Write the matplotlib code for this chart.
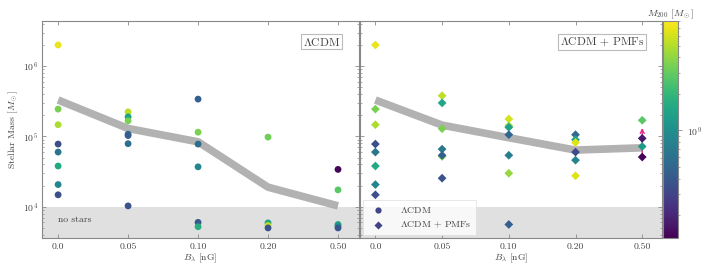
import numpy as np
import matplotlib
matplotlib.use("Agg")
import matplotlib.pyplot as plt
from matplotlib.colors import LogNorm

plt.rcParams.update({
    "font.family": "cmr10",
    "mathtext.fontset": "cm",
    "axes.unicode_minus": False,
    "axes.formatter.use_mathtext": True,
    "font.size": 7,
    "xtick.direction": "in",
    "ytick.direction": "in",
    "xtick.top": True,
    "ytick.right": True,
    "axes.edgecolor": "#888888",
    "xtick.color": "#888888",
    "ytick.color": "#888888",
    "xtick.labelcolor": "#444444",
    "ytick.labelcolor": "#444444",
    "text.color": "#444444",
    "axes.labelcolor": "#444444",
})

# field strengths (categorical x positions)
b_labels = ["0.0", "0.05", "0.10", "0.20", "0.50"]

# LCDM haloes: x index, stellar mass, M200
lcdm_x = [0, 0, 0, 0, 0, 0, 0, 0,
          1, 1, 1, 1, 1, 1, 1,
          2, 2, 2, 2, 2, 2,
          3, 3, 3, 3,
          4, 4, 4, 4, 4]
lcdm_ms = [2.0e6, 2.45e5, 1.47e5, 7.8e4, 6.0e4, 3.8e4, 2.07e4, 1.48e4,
           2.24e5, 1.9e5, 1.67e5, 1.08e5, 1.03e5, 7.9e4, 1.03e4,
           3.4e5, 1.15e5, 7.8e4, 3.7e4, 6.0e3, 5.2e3,
           9.8e4, 5.9e3, 5.4e3, 5.0e3,
           3.4e4, 1.74e4, 5.6e3, 5.3e3, 5.0e3]
lcdm_m200 = [7.0e9, 3.5e9, 4.8e9, 3.5e8, 6.5e8, 1.6e9, 8.5e8, 3.5e8,
             5.3e9, 1.4e9, 3.5e9, 6.0e8, 4.3e8, 5.8e8, 3.7e8,
             4.5e8, 3.5e9, 5.5e8, 8.5e8, 4.0e8, 1.7e9,
             3.2e9, 1.5e9, 5.5e9, 3.7e8,
             1.35e8, 2.8e9, 1.5e9, 1.0e9, 4.0e8]

# LCDM + PMFs haloes
pmf_x = [0, 0, 0, 0, 0, 0, 0, 0,
         1, 1, 1, 1, 1, 1, 1,
         2, 2, 2, 2, 2, 2, 2,
         3, 3, 3, 3, 3, 3,
         4, 4, 4, 4]
pmf_ms = [2.0e6, 2.45e5, 1.47e5, 7.8e4, 6.0e4, 3.8e4, 2.07e4, 1.48e4,
          3.8e5, 3.0e5, 1.29e5, 6.6e4, 5.2e4, 5.4e4, 2.55e4,
          1.77e5, 1.42e5, 1.35e5, 1.06e5, 5.4e4, 3.0e4, 5.6e3,
          1.06e5, 9.0e4, 8.2e4, 6.0e4, 4.6e4, 2.76e4,
          1.7e5, 9.4e4, 7.2e4, 5.1e4]
pmf_m200 = [7.0e9, 3.5e9, 4.8e9, 3.5e8, 6.5e8, 1.6e9, 8.5e8, 3.5e8,
            5.3e9, 1.5e9, 3.5e9, 6.8e8, 3.5e9, 4.5e8, 3.7e8,
            6.0e9, 4.3e9, 1.4e9, 5.0e8, 7.5e8, 4.2e9, 4.5e8,
            5.5e8, 1.5e9, 6.5e9, 3.3e8, 8.5e8, 6.5e9,
            2.8e9, 1.7e8, 1.2e9, 1.35e8]

# median stellar mass per field strength
lcdm_med = [3.3e5, 1.3e5, 8.4e4, 1.9e4, 1.03e4]
pmf_med = [3.3e5, 1.45e5, 9.6e4, 6.4e4, 6.9e4]

# lower-limit arrow in the PMF panel (B = 0.50 nG)
lim_x = 4
lim_lo = 5.1e4
lim_hi = 1.32e5

norm = LogNorm(vmin=1.3e8, vmax=8e9)
cmap = "viridis"

fig = plt.figure(figsize=(7.06, 2.65), dpi=100)
ax1 = fig.add_axes([0.0595, 0.102, 0.449, 0.819])
ax2 = fig.add_axes([0.510, 0.102, 0.428, 0.819], sharey=ax1)
cax = fig.add_axes([0.939, 0.102, 0.0212, 0.819])

for ax, xs, ms, m2, med, mk, name in [
        (ax1, lcdm_x, lcdm_ms, lcdm_m200, lcdm_med, "o", r"$\Lambda$CDM"),
        (ax2, pmf_x, pmf_ms, pmf_m200, pmf_med, "D", r"$\Lambda$CDM + PMFs")]:
    ax.axhspan(1e2, 1e4, color="#e0e0e0", lw=0, zorder=0)
    ax.plot(range(len(med)), med, color="#aaaaaa", lw=5.5, alpha=0.9,
            solid_capstyle="butt", zorder=1)
    sc = ax.scatter(xs, ms, c=m2, cmap=cmap, norm=norm, marker=mk,
                    s=24 if mk == "o" else 20, lw=0, zorder=3)
    ax.set_yscale("log")
    ax.set_ylim(3.6e3, 4.4e6)
    ax.set_xlim(-0.23, 4.3)
    ax.set_xticks(range(len(b_labels)))
    ax.set_xticklabels(b_labels)
    ax.set_xlabel(r"$B_\lambda$ [nG]", labelpad=1)
    ax.tick_params(which="major", length=3, width=0.6, pad=3)
    ax.tick_params(which="minor", length=1.5, width=0.5)
    ax.text(0.94, 0.905, name, transform=ax.transAxes, ha="right",
            va="center", fontsize=8.3,
            bbox=dict(boxstyle="square,pad=0.15", fc="white",
                      ec="#bbbbbb", lw=0.8))

ax1.set_ylabel(r"Stellar Mass [$M_\odot$]", labelpad=2)
ax1.text(0.0, 6.6e3, "no stars", fontsize=7, va="center")
plt.setp(ax2.get_yticklabels(), visible=False)

ax2.annotate("", xy=(lim_x, lim_hi), xytext=(lim_x, lim_lo),
             arrowprops=dict(arrowstyle="->", color="#e7298a", lw=1.0,
                             shrinkA=0, shrinkB=0), zorder=2)

# legend
h1 = ax2.scatter([], [], marker="o", color="#414487", s=20, lw=0,
                 label=r"$\Lambda$CDM")
h2 = ax2.scatter([], [], marker="D", color="#414487", s=17, lw=0,
                 label=r"$\Lambda$CDM + PMFs")
leg = ax2.legend(handles=[h1, h2], loc="lower left", fontsize=7,
                 frameon=True, fancybox=False, borderaxespad=0.3,
                 borderpad=0.5, handletextpad=1.3, labelspacing=0.55)
leg.get_frame().set_edgecolor("#dddddd")
leg.get_frame().set_linewidth(0.6)

cb = fig.colorbar(sc, cax=cax)
cb.ax.set_title(r"$M_{200}$ [$M_\odot$]", fontsize=7, pad=3)
cb.ax.tick_params(which="both", direction="out", right=True)
cb.ax.tick_params(which="major", length=3, width=0.6)
cb.ax.tick_params(which="minor", length=1.5, width=0.5)
cb.outline.set_edgecolor("#888888")

fig.savefig("out.png", dpi=100)
